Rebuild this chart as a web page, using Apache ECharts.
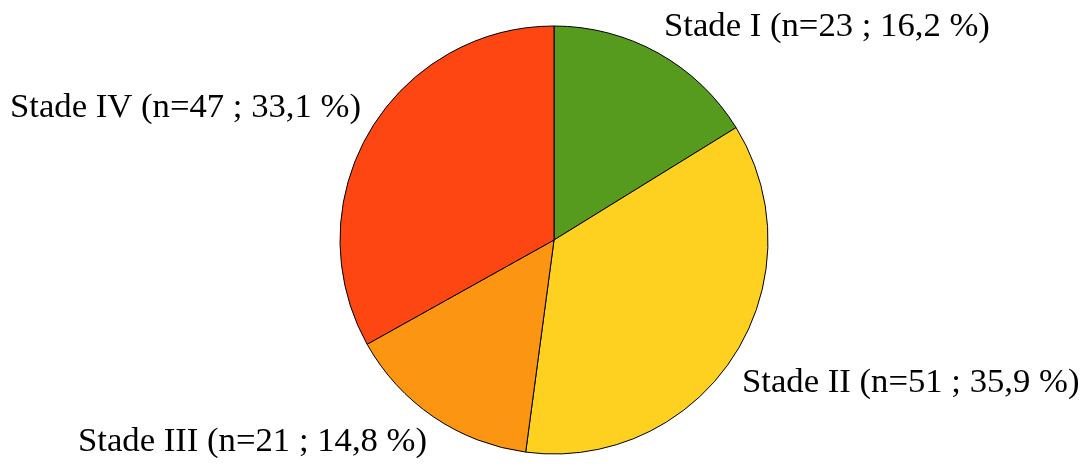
<!DOCTYPE html>
<html><head><meta charset="utf-8">
<script src="https://cdn.jsdelivr.net/npm/echarts@6/dist/echarts.min.js"></script>
<style>html,body{margin:0;padding:0;background:#fff}#c{width:1091px;height:469px}</style>
</head><body><div id="c"></div>
<script>
const categories = ['Stade I', 'Stade II', 'Stade III', 'Stade IV'];
const counts = [23, 51, 21, 47];
const colors = ['#569b1e', '#fed020', '#fc9612', '#fe4612'];
const total = counts.reduce((a, b) => a + b, 0);
const labelPos = [[664, 27], [742, 383], [78, 442], [10, 108]];

const chart = echarts.init(document.getElementById('c'), null, {renderer: 'canvas'});
chart.setOption({
  animation: false,
  backgroundColor: '#fff',
  series: [{
    type: 'pie',
    center: [554, 240],
    radius: 214,
    startAngle: 90,
    clockwise: true,
    avoidLabelOverlap: false,
    data: categories.map((c, i) => ({name: c, value: counts[i], itemStyle: {color: colors[i]}})),
    itemStyle: {borderColor: '#000', borderWidth: 1},
    label: {
      show: true,
      position: 'outside',
      fontFamily: 'Liberation Serif',
      fontSize: 34.7,
      color: '#000',
      formatter: p => p.name + ' (n=' + p.value + ' ; ' + (p.value / total * 100).toFixed(1).replace('.', ',') + ' %)'
    },
    labelLine: {show: false},
    labelLayout: p => ({x: labelPos[p.dataIndex][0], y: labelPos[p.dataIndex][1], align: 'left', verticalAlign: 'middle'}),
    emphasis: {disabled: true}
  }]
});
</script></body></html>
